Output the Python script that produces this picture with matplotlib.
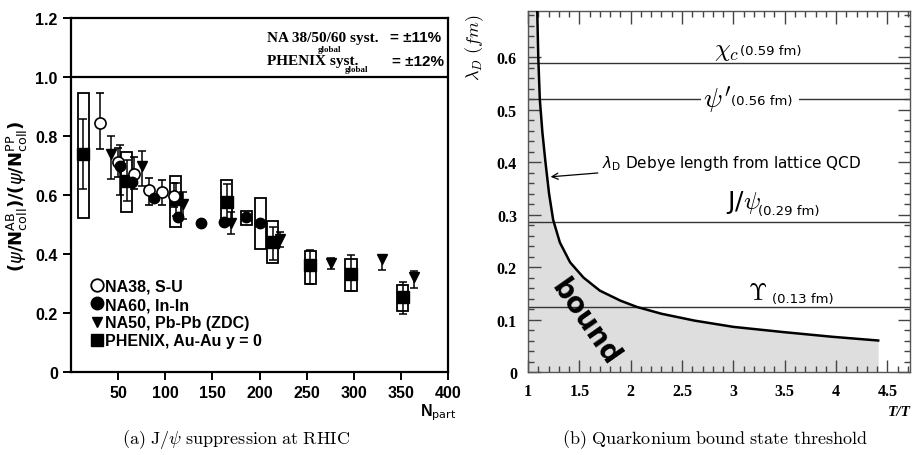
import matplotlib; matplotlib.use("Agg")
import matplotlib.pyplot as plt
from matplotlib.patches import Rectangle
from matplotlib.lines import Line2D
from matplotlib.ticker import MultipleLocator, FuncFormatter

NARROW = ["Liberation Sans Narrow", "Liberation Sans", "DejaVu Sans"]

# ---------- (a) J/psi suppression data ----------
na38_x = [31, 50, 67, 83, 97, 109]
na38_y = [0.844, 0.713, 0.671, 0.618, 0.609, 0.598]
na38_lo = [0.755, 0.66, 0.62, 0.566, 0.566, 0.56]
na38_hi = [0.945, 0.76, 0.729, 0.657, 0.651, 0.64]

na60_x = [52, 65, 88, 113, 138, 162, 186, 201]
na60_y = [0.70, 0.645, 0.59, 0.524, 0.505, 0.507, 0.524, 0.505]
na60_box_x = [186, 201]
na60_box_lo = [0.498, 0.417]
na60_box_hi = [0.547, 0.589]

na50_x = [42, 52, 75, 119, 170, 222, 276, 330, 364]
na50_y = [0.739, 0.69, 0.70, 0.57, 0.505, 0.45, 0.369, 0.383, 0.321]
na50_lo = [0.654, 0.60, 0.629, 0.52, 0.468, 0.424, 0.35, 0.347, 0.284]
na50_hi = [0.80, 0.77, 0.75, 0.61, 0.542, 0.475, 0.386, 0.395, 0.341]

phx_x = [13, 59, 111, 165, 214, 254, 297, 352]
phx_y = [0.739, 0.648, 0.586, 0.577, 0.442, 0.363, 0.332, 0.253]
phx_stat_lo = [0.62, 0.58, 0.53, 0.51, 0.38, 0.297, 0.275, 0.195]
phx_stat_hi = [0.858, 0.72, 0.64, 0.637, 0.49, 0.414, 0.395, 0.306]
phx_sys_lo = [0.522, 0.543, 0.493, 0.498, 0.368, 0.30, 0.276, 0.206]
phx_sys_hi = [0.946, 0.745, 0.666, 0.651, 0.513, 0.411, 0.383, 0.295]

# ---------- (b) Debye length data ----------
debye_T = [1.09, 1.10, 1.115, 1.14, 1.17, 1.205, 1.245, 1.31, 1.41, 1.54, 1.70, 1.90,
           2.06, 2.30, 2.62, 3.0, 3.49, 3.97, 4.41]
debye_L = [0.688, 0.60, 0.52, 0.457, 0.40, 0.34, 0.29, 0.247, 0.209, 0.18, 0.155, 0.136,
           0.124, 0.111, 0.098, 0.086, 0.076, 0.067, 0.06]
state_L = [0.589, 0.52, 0.286, 0.124]   # chi_c, psi', J/psi, Upsilon lines

fig = plt.figure(figsize=(9.13, 4.56), dpi=100)

# ================= left panel =================
ax = fig.add_axes([71/913, 83/456, 377/913, 354/456])
ax.set_xlim(0, 400); ax.set_ylim(0, 1.2)
for s in ax.spines.values(): s.set_linewidth(1.6)
ax.axhline(1.0, color="k", lw=1.6)

for x, lo, hi in zip(phx_x, phx_sys_lo, phx_sys_hi):
    ax.add_patch(Rectangle((x-6, lo), 12, hi-lo, fill=False, ec="k", lw=1.3, zorder=2))
for x, lo, hi in zip(na60_box_x, na60_box_lo, na60_box_hi):
    ax.add_patch(Rectangle((x-6, lo), 12, hi-lo, fill=False, ec="k", lw=1.3, zorder=2))

def eb(x, y, lo, hi, **kw):
    ax.errorbar(x, y, yerr=[[a-b for a, b in zip(y, lo)], [b-a for a, b in zip(y, hi)]],
                color="k", lw=1.1, capsize=2.8, capthick=1.1, zorder=3, **kw)

eb(phx_x, phx_y, phx_stat_lo, phx_stat_hi, fmt="s", ms=8)
eb(na50_x, na50_y, na50_lo, na50_hi, fmt="v", ms=6.5)
ax.plot(na60_x, na60_y, "o", color="k", ms=7.5, zorder=4)
eb(na38_x, na38_y, na38_lo, na38_hi, fmt="o", ms=8, mfc="white", mec="k", mew=1.2)

ax.set_xticks(range(50, 401, 50))
ax.set_yticks([0, 0.2, 0.4, 0.6, 0.8, 1.0, 1.2])
ax.yaxis.set_major_formatter(FuncFormatter(lambda v, p: "0" if v == 0 else f"{v:.1f}"))
ax.tick_params(direction="out", length=6, width=1.4, top=False, right=False)
for lab in ax.get_xticklabels() + ax.get_yticklabels():
    lab.set_family(NARROW); lab.set_fontweight("bold"); lab.set_fontsize(11.5)

ax.set_ylabel(r"($\psi$/N$_{\rm coll}^{\rm AB}$)/($\psi$/N$_{\rm coll}^{\rm PP}$)",
              fontsize=13, fontweight="bold", labelpad=4)
fig.text(420/913, 1-416/456, r"N$_{\rm part}$", fontsize=11.5, fontweight="bold", family=NARROW)

tx = dict(transform=ax.transAxes, fontweight="bold", family="Liberation Serif", fontsize=11, va="center")
ax.text((267-71)/377, (373-38)/354, "NA 38/50/60 syst.", **tx)
ax.text((318-71)/377, (373-50)/354, "global", **dict(tx, fontsize=6.5))
ax.text((390-71)/377, (373-38)/354, "= \u00b111%", **dict(tx, family=NARROW))
ax.text((267-71)/377, (373-61)/354, "PHENIX syst.", **tx)
ax.text((345-71)/377, (373-70)/354, "global", **dict(tx, fontsize=6.5))
ax.text((392-71)/377, (373-62)/354, "= \u00b112%", **dict(tx, family=NARROW))

handles = [Line2D([], [], ls="", marker="o", ms=9, mfc="white", mec="k", mew=1.3),
           Line2D([], [], ls="", marker="o", ms=9, color="k"),
           Line2D([], [], ls="", marker="v", ms=7, color="k"),
           Line2D([], [], ls="", marker="s", ms=8, color="k")]
ax.legend(handles, ["NA38, S-U", "NA60, In-In", "NA50, Pb-Pb (ZDC)", "PHENIX, Au-Au y = 0"],
          loc="lower left", bbox_to_anchor=(0.025, 0.035), frameon=False, handlelength=0.7,
          handletextpad=0.15, labelspacing=0.2, borderpad=0.2,
          prop=dict(family=NARROW, weight="bold", size=11.5))

# ================= right panel =================
bx = fig.add_axes([528/913, 83/456, 382/913, 361/456])
bx.set_xlim(1, 4.72); bx.set_ylim(0, 0.688)
bx.fill_between([1.0] + debye_T, 0, [debye_L[0]] + debye_L, color="#dedede", lw=0, zorder=0)
bx.plot(debye_T, debye_L, color="k", lw=1.8, zorder=3)
for yv in state_L:
    bx.axhline(yv, color="#333333", lw=1.0, zorder=1)

bx.xaxis.set_major_locator(MultipleLocator(0.5)); bx.xaxis.set_minor_locator(MultipleLocator(0.1))
bx.yaxis.set_major_locator(MultipleLocator(0.1)); bx.yaxis.set_minor_locator(MultipleLocator(0.02))
fmt = FuncFormatter(lambda v, p: "0" if abs(v) < 1e-9 else f"{v:g}")
bx.xaxis.set_major_formatter(fmt); bx.yaxis.set_major_formatter(fmt)
bx.tick_params(which="both", direction="in", top=True, right=True, width=1.0, color="#444444")
bx.tick_params(which="major", length=9, pad=8)
bx.tick_params(which="minor", length=4.5)
for lab in bx.get_xticklabels() + bx.get_yticklabels():
    lab.set_family("Liberation Serif"); lab.set_fontweight("bold"); lab.set_fontsize(11.5)
for s in bx.spines.values(): s.set_linewidth(1.0); s.set_color("#555555")

fig.text(475/913, 1-48/456, r"$\lambda_D$ $(fm)$", rotation=90, ha="center", va="center",
         fontsize=13, math_fontfamily="cm")
fig.text(888/913, 1-413/456, "T/T", fontsize=11, fontweight="bold", style="italic",
         family="Liberation Serif", va="center")

lab = dict(family="DejaVu Sans", fontsize=9.5, va="center", zorder=5)
bx.text(2.93, 0.613, r"$\chi_c$", fontsize=18, math_fontfamily="cm", ha="center", va="center")
bx.text(3.06, 0.612, "(0.59 fm)", **lab)
bx.text(2.84, 0.52, r"$\psi'$", fontsize=20, math_fontfamily="cm", ha="center", va="center",
        bbox=dict(fc="white", ec="none", pad=1), zorder=5)
bx.text(2.98, 0.518, "(0.56 fm) ", bbox=dict(fc="white", ec="none", pad=1), **lab)
bx.text(3.1, 0.325, r"J/$\psi$", fontsize=18, math_fontfamily="cm", ha="center", va="center")
bx.text(3.24, 0.308, "(0.29 fm)", **lab)
bx.text(3.24, 0.152, r"$\Upsilon$", fontsize=17, math_fontfamily="cm", ha="center", va="center")
bx.text(3.38, 0.141, "(0.13 fm)", **lab)
bx.annotate(r"$\lambda_{\rm D}$ Debye length from lattice QCD", xy=(1.22, 0.372), xytext=(1.72, 0.40),
            va="center", fontsize=11, family="DejaVu Sans",
            arrowprops=dict(arrowstyle="->", color="k", lw=0.9, shrinkA=1, shrinkB=0))
bx.text(1.56, 0.095, "bound", rotation=-55, ha="center", va="center", fontsize=20,
        fontweight="bold", family="DejaVu Sans", zorder=4)

# ---------- captions ----------
fig.text(236/913, 1-440/456, r"$\mathrm{(a)\ J/}\psi\mathrm{\ suppression\ at\ RHIC}$",
         ha="center", va="center", fontsize=13, math_fontfamily="cm")
fig.text(715/913, 1-440/456, r"$\mathrm{(b)\ Quarkonium\ bound\ state\ threshold}$",
         ha="center", va="center", fontsize=13, math_fontfamily="cm")

fig.savefig("out.png", dpi=100)
